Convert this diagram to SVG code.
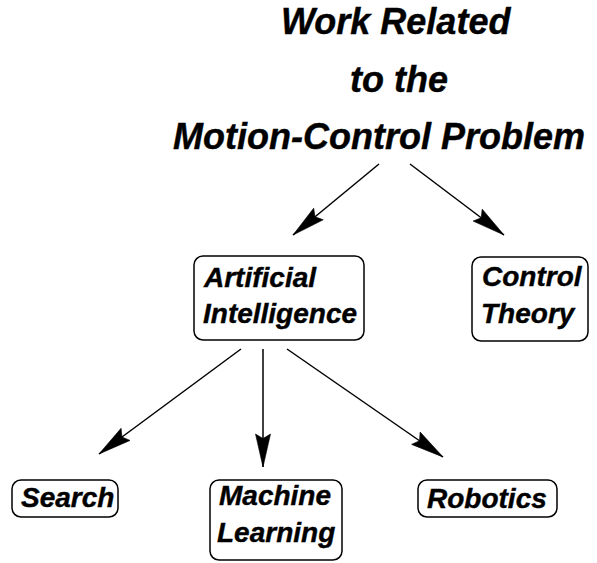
<svg xmlns="http://www.w3.org/2000/svg" width="597" height="563" viewBox="0 0 597 563">
  <style>
    text { font-family: "Liberation Sans", Arial, sans-serif; font-weight: bold; font-style: italic; fill: #000; stroke: #000; stroke-width: 0.4; }
    .title { font-size: 36px; }
    .label { font-size: 28px; }
    .box { fill: #fff; stroke: #000; stroke-width: 1.5; }
    .edge { fill: none; stroke: #000; stroke-width: 1.5; marker-end: url(#head); }
  </style>
  <defs>
    <marker id="head" markerUnits="userSpaceOnUse" markerWidth="40" markerHeight="24" viewBox="-36 -12 40 24" refX="0" refY="0" orient="auto">
      <path d="M0,0 L-33,-7.5 L-28.5,0 L-33,7.5 Z" fill="#000" stroke="#000" stroke-width="0.6" stroke-linejoin="miter"/>
    </marker>
  </defs>

  <g id="title">
    <text class="title" x="281" y="34">Work Related</text>
    <text class="title" x="350" y="92">to the</text>
    <text class="title" x="173" y="149">Motion-Control Problem</text>
  </g>

  <g id="connectors">
    <line class="edge" x1="379" y1="164" x2="293" y2="235"/>
    <line class="edge" x1="410" y1="164" x2="504" y2="235"/>
    <line class="edge" x1="241" y1="349" x2="99" y2="454"/>
    <line class="edge" x1="263" y1="349" x2="263" y2="467"/>
    <line class="edge" x1="287" y1="349" x2="443" y2="457"/>
  </g>

  <g id="ai">
    <rect class="box" x="194" y="256" width="170" height="84" rx="9"/>
    <text class="label" x="204" y="287">Artificial</text>
    <text class="label" x="203" y="323">Intelligence</text>
  </g>

  <g id="control-theory">
    <rect class="box" x="472" y="257" width="116" height="84" rx="9"/>
    <text class="label" x="482" y="286">Control</text>
    <text class="label" x="481" y="323">Theory</text>
  </g>

  <g id="search">
    <rect class="box" x="12" y="480" width="106" height="37" rx="9"/>
    <text class="label" x="21" y="507">Search</text>
  </g>

  <g id="machine-learning">
    <rect class="box" x="210" y="480" width="132" height="80" rx="9"/>
    <text class="label" x="219" y="505">Machine</text>
    <text class="label" x="217" y="542">Learning</text>
  </g>

  <g id="robotics">
    <rect class="box" x="418" y="480" width="139" height="37" rx="9"/>
    <text class="label" x="427" y="508">Robotics</text>
  </g>
</svg>
